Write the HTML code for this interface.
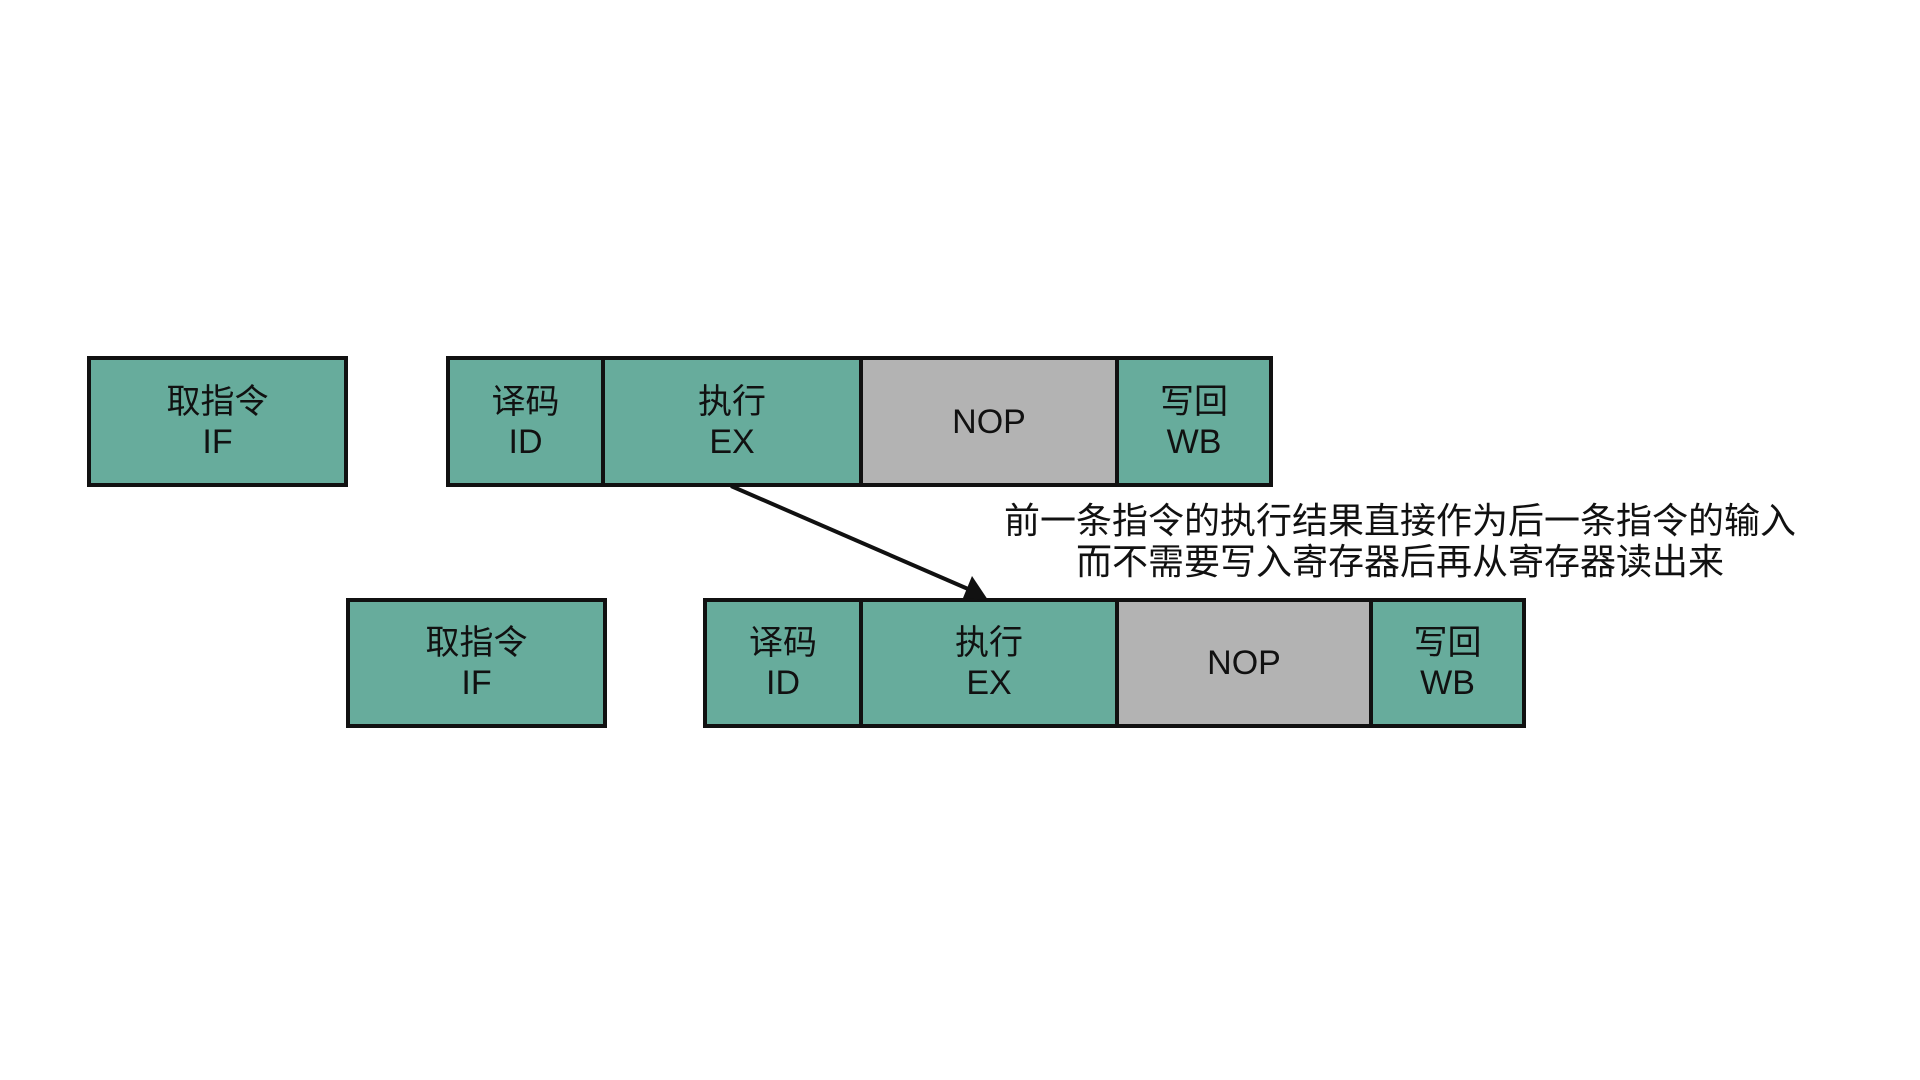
<!DOCTYPE html>
<html><head><meta charset="utf-8"><style>
body{margin:0;width:1920px;height:1080px;background:#fff;position:relative;overflow:hidden;font-family:"Liberation Sans","Noto Sans CJK SC",sans-serif;}
.b{position:absolute;box-sizing:border-box;border:4px solid #111;background:#67ac9c;display:flex;align-items:center;justify-content:center;text-align:center;font-size:34px;line-height:40px;color:#111;}
.g{background:#b3b3b3;}
.t{position:absolute;left:900px;width:1000px;text-align:center;font-size:36px;line-height:41px;color:#111;top:500px;}
</style></head><body>
<div class="b" style="left:87px;top:356px;width:261px;height:131px">取指令<br>IF</div>
<div class="b" style="left:446px;top:356px;width:159px;height:131px">译码<br>ID</div>
<div class="b" style="left:601px;top:356px;width:262px;height:131px">执行<br>EX</div>
<div class="b g" style="left:859px;top:356px;width:260px;height:131px">NOP</div>
<div class="b" style="left:1115px;top:356px;width:158px;height:131px">写回<br>WB</div>

<div class="b" style="left:346px;top:598px;width:261px;height:130px">取指令<br>IF</div>
<div class="b" style="left:703px;top:598px;width:160px;height:130px">译码<br>ID</div>
<div class="b" style="left:859px;top:598px;width:260px;height:130px">执行<br>EX</div>
<div class="b g" style="left:1115px;top:598px;width:258px;height:130px">NOP</div>
<div class="b" style="left:1369px;top:598px;width:157px;height:130px">写回<br>WB</div>

<svg style="position:absolute;left:0;top:0" width="1920" height="1080">
<line x1="731" y1="486" x2="975" y2="592" stroke="#111" stroke-width="4"/>
<polygon points="988,600 963,598 972,576" fill="#111"/>
</svg>
<div class="t">前一条指令的执行结果直接作为后一条指令的输入<br>而不需要写入寄存器后再从寄存器读出来</div>
</body></html>
